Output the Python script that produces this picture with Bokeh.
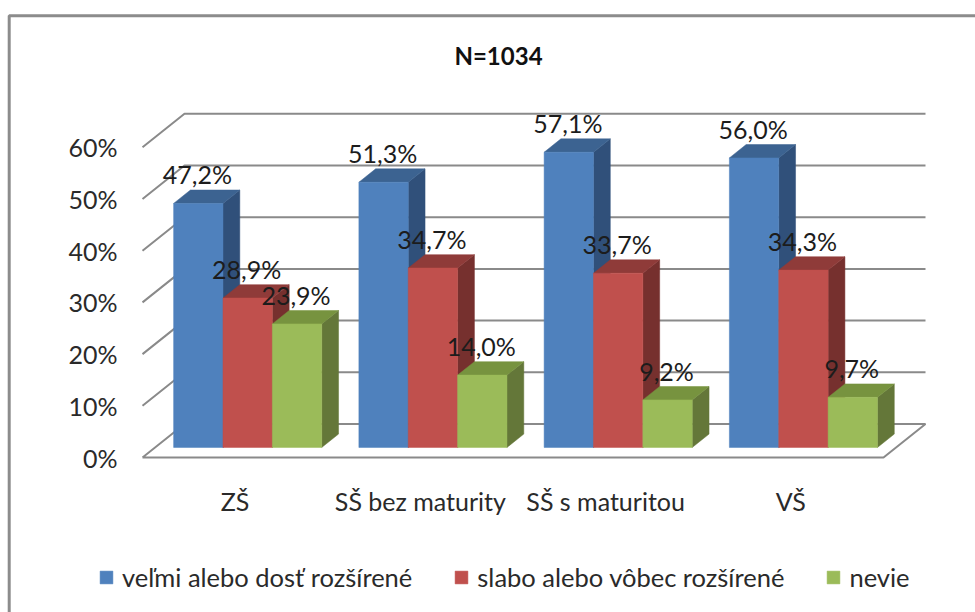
from bokeh.embed import file_html
from bokeh.resources import INLINE
from bokeh.plotting import figure
from bokeh.models import Range1d, FixedTicker, Legend, LegendItem, Label
from bokeh.core.properties import value

# ---- data ----
TITLE = "N=1034"
categories = ["ZŠ", "SŠ bez maturity", "SŠ s maturitou", "VŠ"]
series_names = ["veľmi alebo dosť rozšírené", "slabo alebo vôbec rozšírené", "nevie"]
velmi = [47.2, 51.3, 57.1, 56.0]
slabo = [28.9, 34.7, 33.7, 34.3]
nevie = [23.9, 14.0, 9.2, 9.7]
y_ticks = [0, 10, 20, 30, 40, 50, 60]
y_tick_labels = ["0%", "10%", "20%", "30%", "40%", "50%", "60%"]
front_colors = ["#4F81BD", "#C0504D", "#9BBB59"]
side_colors = ["#30507A", "#76302E", "#647739"]
top_colors = ["#3C6391", "#8F3B39", "#77933F"]

all_series = [velmi, slabo, nevie]

# ---- 3D projection of the Excel-style box ----
DEPTH_X = 42 / 185.25     # in category units
DEPTH_Y = 33.5 / 5.17     # in percent units
Z0, Z1 = 0.30, 0.70       # bars' front and back within the depth
GAP = 0.10                # gap left of a group, in category units
BAR = 0.2665              # width of one bar, in category units


def proj(x, v, z):
    return x + z * DEPTH_X, v + z * DEPTH_Y


# ---- figure: the plot frame fills the canvas ----
PX_PER_CAT = 185.25
PX_PER_PCT = 5.17
ORIGIN_X, ORIGIN_Y = 142, 457      # page position of the front 0% corner
PAGE_L, PAGE_R, PAGE_T, PAGE_B = 0, 975, 0, 612


def dx(px):
    return (px - ORIGIN_X) / PX_PER_CAT


def dy(py):
    return (ORIGIN_Y - py) / PX_PER_PCT


p = figure(width=PAGE_R - PAGE_L, height=PAGE_B - PAGE_T, output_backend="svg", toolbar_location=None,
           x_range=Range1d(dx(PAGE_L), dx(PAGE_R)), y_range=Range1d(dy(PAGE_B), dy(PAGE_T)),
           min_border_left=0, min_border_right=0, min_border_top=0, min_border_bottom=0)
p.outline_line_color = None
p.grid.visible = False
p.background_fill_color = "white"
p.border_fill_color = "white"

TEXT = "#2a2a2a"
FONT = "Lato"

ya = p.yaxis[0]
ya.fixed_location = dx(125)
ya.ticker = FixedTicker(ticks=y_ticks)
ya.major_label_overrides = {t: s for t, s in zip(y_ticks, y_tick_labels)}
ya.axis_line_color = None
ya.major_tick_line_color = None
ya.minor_tick_line_color = None
ya.major_label_standoff = 2
ya.major_label_text_font = FONT
ya.major_label_text_font_size = "25px"
ya.major_label_text_color = TEXT

xa = p.xaxis[0]
xa.fixed_location = dy(470)
cat_pos = [i + 0.5 for i in range(len(categories))]
xa.ticker = FixedTicker(ticks=cat_pos)
xa.major_label_overrides = {t: s for t, s in zip(cat_pos, categories)}
xa.axis_line_color = None
xa.major_tick_line_color = None
xa.minor_tick_line_color = None
xa.major_label_standoff = 9
xa.major_label_text_font = FONT
xa.major_label_text_font_size = "25px"
xa.major_label_text_color = TEXT

# ---- outer chart border (left and top edges) ----
p.line([dx(8.7), dx(8.7), dx(PAGE_R)], [dy(PAGE_B), dy(15.3), dy(15.3)], line_color="#8c8c8c", line_width=3)

# ---- title ----
p.add_layout(Label(x=dx(498), y=dy(55), text=TITLE, text_font=FONT, text_font_style="bold",
                   text_font_size="24px", text_color="#111111", text_align="center", text_baseline="middle"))

# ---- grid walls and floor ----
n = len(categories)
gx, gy = [], []
for t in y_ticks[1:]:
    x0, v0 = proj(0, t, 0)
    x1, v1 = proj(0, t, 1)
    x2, v2 = proj(n, t, 1)
    gx.append([x0, x1, x2])
    gy.append([v0, v1, v2])
fx = [proj(0, 0, 0), proj(n, 0, 0), proj(n, 0, 1), proj(0, 0, 1), proj(0, 0, 0)]
gx.append([a for a, _ in fx])
gy.append([b for _, b in fx])
p.multi_line(gx, gy, line_color="#8a8a8a", line_width=2)

# ---- bars ----
legend_items = []
label_x, label_y, label_t = [], [], []
for s, vals in enumerate(all_series):
    fxs, fys, sxs, sys_, txs, tys = [], [], [], [], [], []
    for c, v in enumerate(vals):
        a = c + GAP + s * BAR
        b = a + BAR
        front = [proj(a, 0, Z0), proj(b, 0, Z0), proj(b, v, Z0), proj(a, v, Z0)]
        side = [proj(b, 0, Z0), proj(b, 0, Z1), proj(b, v, Z1), proj(b, v, Z0)]
        top = [proj(a, v, Z0), proj(b, v, Z0), proj(b, v, Z1), proj(a, v, Z1)]
        fxs.append([q[0] for q in front]); fys.append([q[1] for q in front])
        sxs.append([q[0] for q in side]); sys_.append([q[1] for q in side])
        txs.append([q[0] for q in top]); tys.append([q[1] for q in top])
        lx, ly = proj((a + b) / 2, v, Z0)
        label_x.append(lx); label_y.append(ly)
        label_t.append(f"{v:.1f}%".replace(".", ","))
    p.patches(sxs, sys_, fill_color=side_colors[s], line_color=side_colors[s], line_width=0.5)
    p.patches(txs, tys, fill_color=top_colors[s], line_color=top_colors[s], line_width=0.5)
    r = p.patches(fxs, fys, fill_color=front_colors[s], line_color=front_colors[s], line_width=0.5)
    legend_items.append(LegendItem(label=series_names[s], renderers=[r]))

p.text(label_x, label_y, text=label_t, text_font=value(FONT), text_font_size="25px",
       text_color="#1c1c1c", text_align="center", text_baseline="middle", x_offset=-1, y_offset=-29)

# ---- legend ----
legend = Legend(items=legend_items, orientation="horizontal", location=(98, 20),
                glyph_width=16, glyph_height=16, label_standoff=8, spacing=41,
                padding=0, margin=0, border_line_color=None, background_fill_alpha=0,
                label_text_font=FONT, label_text_font_size="25.5px", label_text_color=TEXT)
p.add_layout(legend, "center")

open("out.html", "w").write(file_html(p, INLINE))
